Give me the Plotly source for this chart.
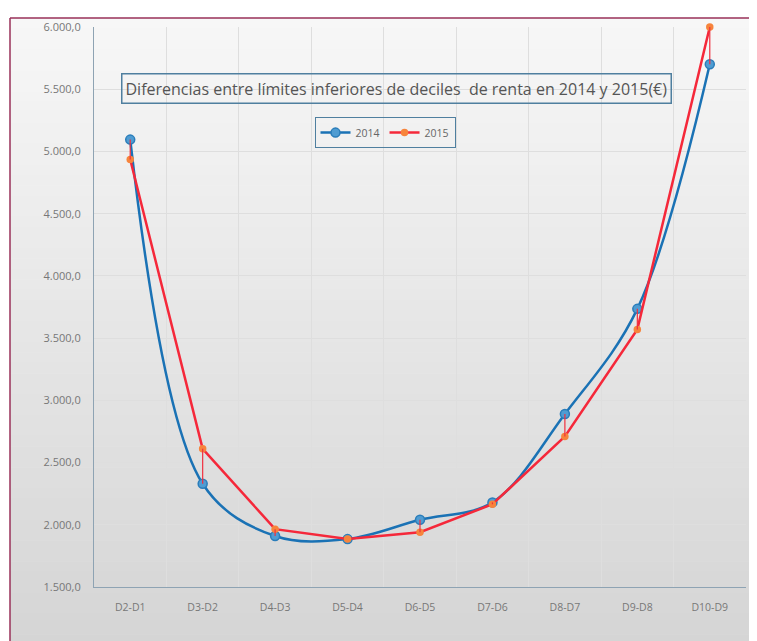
import plotly.graph_objects as go

# Categories and values (euros)
categories = ['D2-D1', 'D3-D2', 'D4-D3', 'D5-D4', 'D6-D5', 'D7-D6', 'D8-D7', 'D9-D8', 'D10-D9']
values_2014 = [5095, 2330, 1910, 1885, 2040, 2180, 2890, 3735, 5700]
values_2015 = [4935, 2610, 1965, 1885, 1940, 2165, 2710, 3570, 6000]
y_ticks = [1500, 2000, 2500, 3000, 3500, 4000, 4500, 5000, 5500, 6000]

# page is 757x641, the html body adds an 8px margin around the figure
OFF = 8
W, H = 757 - OFF, 641 - OFF
L, T = 94 - OFF, 25 - OFF
R = W - (746 - OFF)
B = H - (587 - OFF)
PW, PH = W - L - R, H - T - B


def px_x(px):
    # page pixel -> paper coordinate
    return (px - OFF - L) / PW


def px_y(py):
    return (H - B - (py - OFF)) / PH


fig = go.Figure()

# Excel-style high-low lines between the two series
hl_x, hl_y = [], []
for c, a, b in zip(categories, values_2014, values_2015):
    hl_x += [c, c, None]
    hl_y += [a, b, None]

fig.add_trace(go.Scatter(
    x=categories, y=values_2014, name='2014', mode='lines+markers', cliponaxis=False,
    line=dict(color='#1A72B5', width=2.5, shape='spline', smoothing=1.0),
    marker=dict(size=9, color='#4F9CD2', line=dict(color='#2A7DBA', width=1.5))
))
fig.add_trace(go.Scatter(
    x=categories, y=values_2015, name='2015', mode='lines+markers', cliponaxis=False,
    line=dict(color='#F5283A', width=2.5),
    marker=dict(size=7.5, color='#F7843C', line=dict(width=0))
))
fig.add_trace(go.Scatter(
    x=hl_x, y=hl_y, mode='lines', showlegend=False, hoverinfo='skip', cliponaxis=False,
    line=dict(color='#F03040', width=1.2)
))

# background gradient inside the maroon frame
shapes = []
n = 60
top, bottom = 16, 645
c0, c1 = (247, 247, 247), (213, 213, 213)
for i in range(n):
    y0 = top + (bottom - top) * i / n
    y1 = top + (bottom - top) * (i + 1) / n
    t = i / (n - 1)
    col = tuple(round(c0[k] + (c1[k] - c0[k]) * t) for k in range(3))
    shapes.append(dict(
        type='rect', xref='paper', yref='paper', layer='below',
        x0=px_x(10), x1=px_x(765), y0=px_y(y1 + 0.5), y1=px_y(y0),
        fillcolor='rgb(%d,%d,%d)' % col, line=dict(width=0)
    ))
shapes.append(dict(type='line', xref='paper', yref='paper', x0=px_x(10), x1=px_x(10),
                   y0=px_y(16), y1=px_y(650), line=dict(color='#983058', width=1.5)))
shapes.append(dict(type='line', xref='paper', yref='paper', x0=px_x(10), x1=px_x(765),
                   y0=px_y(16), y1=px_y(16), line=dict(color='#983058', width=1.5)))

fig.update_layout(
    width=W, height=H,
    margin=dict(l=L, r=R, t=T, b=B),
    paper_bgcolor='white',
    plot_bgcolor='rgba(0,0,0,0)',
    separators=',.',
    font=dict(family='Open Sans, sans-serif', color='#666666'),
    shapes=shapes,
    showlegend=True,
    legend=dict(
        orientation='h', x=px_x(385), y=px_y(131), xanchor='center', yanchor='middle',
        bgcolor='rgba(0,0,0,0)', bordercolor='#4F7F9F', borderwidth=1,
        font=dict(size=10.5, color='#666666'), itemwidth=30, tracegroupgap=0
    ),
    annotations=[dict(
        text='Diferencias entre límites inferiores de deciles  de renta en 2014 y 2015(€)',
        xref='paper', yref='paper', x=px_x(396), y=px_y(87),
        xanchor='center', yanchor='middle', showarrow=False,
        font=dict(size=16, color='#555555'),
        bordercolor='#4F7F9F', borderwidth=1.5, borderpad=3
    )],
    xaxis=dict(
        type='category', range=[-0.5, len(categories) - 0.5], tickson='boundaries',
        showgrid=True, gridcolor='#DEDEDE', gridwidth=1,
        showline=True, linecolor='#8EA3B3', linewidth=1.2,
        ticks='', tickfont=dict(size=10.5, color='#777777'), ticklabelstandoff=10
    ),
    yaxis=dict(
        range=[1500, 6000], tickvals=y_ticks, tickformat=',.1f',
        showgrid=True, gridcolor='#DEDEDE', gridwidth=1,
        showline=True, linecolor='#8EA3B3', linewidth=1.2,
        ticks='', tickfont=dict(size=11, color='#777777'), ticklabelstandoff=10,
        zeroline=False
    ),
)

fig.write_html('out.html')
